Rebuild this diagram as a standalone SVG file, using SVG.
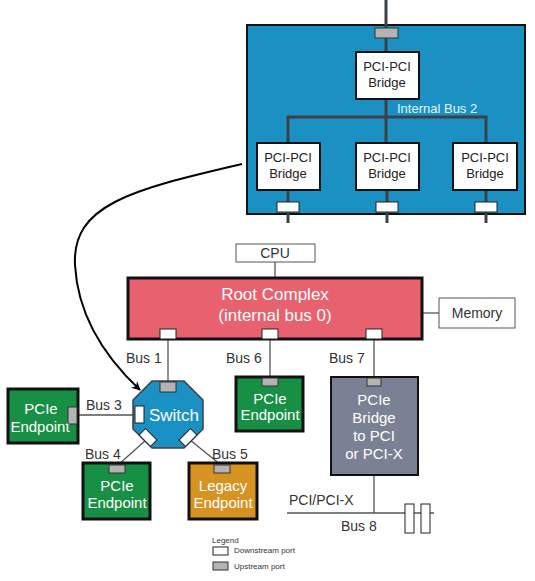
<svg xmlns="http://www.w3.org/2000/svg" width="535" height="581" viewBox="0 0 535 581">
<defs>
<style>
text{font-family:"Liberation Sans",Arial,sans-serif}
.wire{stroke:#3a4248;stroke-width:3;fill:none}
.thin{stroke:#555;stroke-width:1.3;fill:none}
.bridge{fill:#fff;stroke:#111;stroke-width:2}
.btxt{font-size:13px;fill:#222;text-anchor:middle}
.dp{fill:#fff;stroke:#222;stroke-width:1}
.up{fill:#b3b3b3;stroke:#333;stroke-width:1}
.lbl{font-size:14px;fill:#333}
.wt{fill:#fff;text-anchor:middle}
.ep{stroke:#111;stroke-width:3}
.box{fill:#fff;stroke:#555;stroke-width:1}
</style>
<marker id="ah" viewBox="0 0 10 10" refX="9" refY="5" markerWidth="9" markerHeight="9" markerUnits="userSpaceOnUse" orient="auto"><path d="M0,0 L10,5 L0,10 L3,5 z" fill="#000"/></marker>
</defs>

<g id="pci-switch-internal">
<rect x="247" y="25" width="278" height="189" fill="#1b90c2" stroke="#111" stroke-width="2"/>
</g>

<g id="connectors">
<line class="wire" x1="386" y1="0" x2="386" y2="52"/>
<line class="wire" x1="386" y1="99" x2="386" y2="143"/>
<polyline class="wire" points="288,143 288,117 486,117 486,143"/>
<line class="wire" x1="288" y1="190" x2="288" y2="223"/>
<line class="wire" x1="387" y1="190" x2="387" y2="223"/>
<line class="wire" x1="486" y1="190" x2="486" y2="223"/>
<line class="thin" x1="275" y1="262" x2="275" y2="278"/>
<line class="thin" x1="423" y1="313" x2="439" y2="313"/>
<line class="thin" x1="168" y1="339" x2="168" y2="382"/>
<line class="thin" x1="270" y1="339" x2="270" y2="377"/>
<line class="thin" x1="374" y1="339" x2="374" y2="377"/>
<line class="thin" x1="78" y1="415" x2="135" y2="415"/>
<line class="thin" x1="146" y1="440" x2="118" y2="465"/>
<line class="thin" x1="190" y1="440" x2="221" y2="465"/>
<line class="thin" x1="374" y1="475" x2="374" y2="513"/>
<line class="thin" x1="287" y1="513" x2="434" y2="513"/>
<path d="M242,164 C130,190 72,205 75,265 C78,320 108,360 140,390" fill="none" stroke="#000" stroke-width="2" marker-end="url(#ah)"/>
</g>

<g id="internal-ports">
<rect class="up" x="375" y="28" width="23" height="10"/>
<text x="397" y="113" font-size="13" fill="#e8f4fa">Internal Bus 2</text>
</g>
<g id="bridge-top"><rect class="bridge" x="356" y="52" width="63" height="47"/><text class="btxt" x="387" y="71">PCI-PCI</text><text class="btxt" x="387" y="87">Bridge</text></g>
<g id="bridge-left"><rect class="bridge" x="257" y="143" width="63" height="47"/><text class="btxt" x="288" y="162">PCI-PCI</text><text class="btxt" x="288" y="178">Bridge</text><rect class="dp" x="277" y="202" width="22" height="10"/></g>
<g id="bridge-mid"><rect class="bridge" x="356" y="143" width="63" height="47"/><text class="btxt" x="387" y="162">PCI-PCI</text><text class="btxt" x="387" y="178">Bridge</text><rect class="dp" x="376" y="202" width="22" height="10"/></g>
<g id="bridge-right"><rect class="bridge" x="453" y="143" width="64" height="47"/><text class="btxt" x="485" y="162">PCI-PCI</text><text class="btxt" x="485" y="178">Bridge</text><rect class="dp" x="475" y="202" width="22" height="10"/></g>

<g id="cpu"><rect class="box" x="236" y="244" width="79" height="18"/><text x="275" y="258" font-size="14" fill="#333" text-anchor="middle">CPU</text></g>
<g id="memory"><rect class="box" x="439" y="298" width="76" height="30"/><text x="477" y="318" font-size="14" fill="#333" text-anchor="middle">Memory</text></g>

<g id="root-complex">
<rect x="128" y="278" width="294" height="61" fill="#e8616e" stroke="#111" stroke-width="3"/>
<text class="wt" x="275" y="300" font-size="17">Root Complex</text>
<text class="wt" x="275" y="321" font-size="17">(internal bus 0)</text>
<rect class="dp" x="160" y="329" width="16" height="10"/>
<rect class="dp" x="262" y="329" width="16" height="10"/>
<rect class="dp" x="366" y="329" width="16" height="10"/>
</g>

<g id="bus-labels">
<text class="lbl" x="126" y="363">Bus 1</text>
<text class="lbl" x="226" y="363">Bus 6</text>
<text class="lbl" x="329" y="363">Bus 7</text>
<text class="lbl" x="86" y="410">Bus 3</text>
<text class="lbl" x="85" y="459">Bus 4</text>
<text class="lbl" x="212" y="459">Bus 5</text>
<text class="lbl" x="289" y="505">PCI/PCI-X</text>
<text class="lbl" x="341" y="531">Bus 8</text>
</g>

<g id="switch">
<polygon points="152,381 184,381 203,400 203,429 184,448 152,448 133,429 133,400" fill="#1b90c2" stroke="#3a4248" stroke-width="1.5"/>
<rect class="up" x="160" y="382" width="16" height="10"/>
<rect class="dp" x="135" y="406" width="9" height="17"/>
<text class="wt" x="174" y="421" font-size="17">Switch</text>
<rect class="dp" x="140" y="433" width="16" height="9" transform="rotate(45 148 437.5)"/>
<rect class="dp" x="180" y="433" width="16" height="9" transform="rotate(-45 188 437.5)"/>
</g>

<g id="endpoint-bus3"><rect class="ep" x="8" y="389" width="70" height="54" fill="#178f45"/><text class="wt" x="41" y="414" font-size="15">PCIe</text><text class="wt" x="40" y="432" font-size="15">Endpoint</text><rect class="up" x="68" y="407" width="9" height="17"/></g>
<g id="endpoint-bus4"><rect class="ep" x="83" y="463" width="67" height="56" fill="#178f45"/><text class="wt" x="117" y="491" font-size="15">PCIe</text><text class="wt" x="117" y="508" font-size="15">Endpoint</text><rect class="up" x="109" y="465" width="16" height="8"/></g>
<g id="legacy-endpoint"><rect class="ep" x="189" y="463" width="68" height="56" fill="#d69322"/><text class="wt" x="223" y="491" font-size="15">Legacy</text><text class="wt" x="223" y="508" font-size="15">Endpoint</text><rect class="up" x="214" y="465" width="16" height="8"/></g>
<g id="endpoint-bus6"><rect class="ep" x="236" y="377" width="67" height="54" fill="#178f45"/><text class="wt" x="270" y="404" font-size="15">PCIe</text><text class="wt" x="270" y="420" font-size="15">Endpoint</text><rect class="up" x="262" y="378" width="16" height="8"/></g>
<g id="pcie-bridge"><rect x="331" y="377" width="87" height="98" fill="#7b8194" stroke="#111" stroke-width="2"/>
<text class="wt" x="374" y="405" font-size="15">PCIe</text><text class="wt" x="374" y="423" font-size="15">Bridge</text><text class="wt" x="374" y="441" font-size="15">to PCI</text><text class="wt" x="374" y="459" font-size="15">or PCI-X</text>
<rect class="up" x="367" y="378" width="14" height="8"/></g>
<g id="slots"><rect x="405" y="504" width="9" height="29" fill="#fff" stroke="#222"/><rect x="421" y="504" width="9" height="29" fill="#fff" stroke="#222"/></g>

<g id="legend">
<text x="212" y="543" font-size="8" fill="#333">Legend</text>
<rect class="dp" x="213" y="547" width="15" height="8"/><text x="234" y="553" font-size="8" fill="#333">Downstream port</text>
<rect class="up" x="213" y="562" width="15" height="8"/><text x="234" y="569" font-size="8" fill="#333">Upstream port</text>
</g>
</svg>
